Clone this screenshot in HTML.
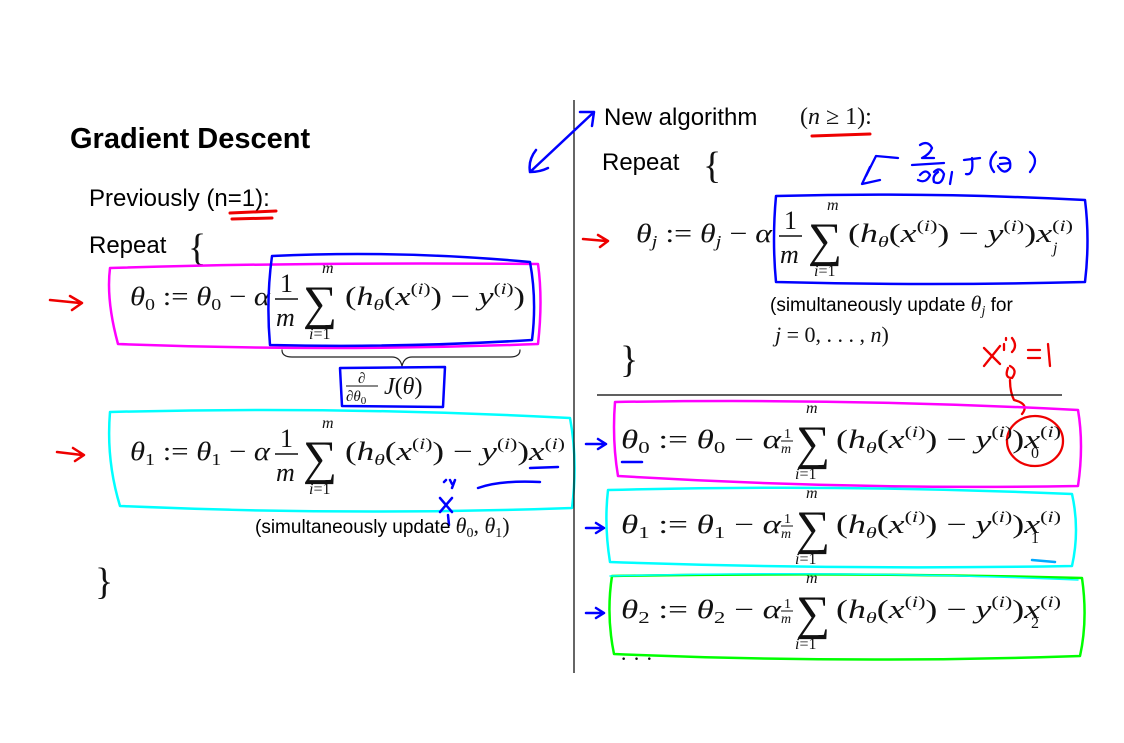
<!DOCTYPE html>
<html><head><meta charset="utf-8"><style>
html,body{margin:0;padding:0;background:#fff;}
svg{display:block;}
.m{font-family:"Liberation Serif","DejaVu Serif",serif;fill:#111;}
.s{font-family:"Liberation Sans",sans-serif;fill:#000;}
.hw{fill:none;stroke-linecap:round;stroke-linejoin:round;}
</style></head><body>
<svg width="1124" height="743" viewBox="0 0 1124 743" font-size="26">
<rect width="1124" height="743" fill="#fff"/>
<!-- left column -->
<text x="70" y="148" class="s" font-size="29" font-weight="bold">Gradient Descent</text>
<text x="89" y="206" class="s" font-size="24">Previously (n=1):</text>
<path d="M230 213 L276 211 M232 219 L272 218" class="hw" stroke="#e00" stroke-width="3"/>
<text x="89" y="253" class="s" font-size="24">Repeat</text>
<text x="188" y="260" class="m" font-size="38">{</text>

<!-- eq theta0 left -->
<g>
<text x="130" y="305" class="m" textLength="140" lengthAdjust="spacingAndGlyphs"><tspan font-style="italic">θ</tspan><tspan font-size="17" dy="5">0</tspan><tspan dy="-5"> := </tspan><tspan font-style="italic">θ</tspan><tspan font-size="17" dy="5">0</tspan><tspan dy="-5"> − </tspan><tspan font-style="italic">α</tspan></text>
<text x="280" y="292" class="m">1</text><line x1="275" y1="299" x2="298" y2="299" stroke="#111" stroke-width="1.5"/><text x="276" y="326" class="m" font-style="italic">m</text>
<text x="303" y="319" class="m" font-size="48">∑</text>
<text x="322" y="273" class="m" font-size="16" font-style="italic">m</text>
<text x="309" y="339" class="m" font-size="16"><tspan font-style="italic">i</tspan>=1</text>
<text x="345" y="305" class="m" textLength="180" lengthAdjust="spacingAndGlyphs">(<tspan font-style="italic">h</tspan><tspan font-size="16" dy="5" font-style="italic">θ</tspan><tspan dy="-5">(</tspan><tspan font-style="italic">x</tspan><tspan font-size="16" dy="-11">(<tspan font-style="italic">i</tspan>)</tspan><tspan dy="11">) − </tspan><tspan font-style="italic">y</tspan><tspan font-size="16" dy="-11">(<tspan font-style="italic">i</tspan>)</tspan><tspan dy="11">)</tspan></text>
</g>
<path d="M110 268 Q300 262 538 264 Q543 300 538 344 Q330 352 118 344 Q106 300 110 268Z" class="hw" stroke="#f0f" stroke-width="2.5"/>
<path d="M272 256 Q400 250 530 262 Q537 300 532 340 Q400 348 270 345 Q266 300 272 256Z" class="hw" stroke="#00f" stroke-width="2.5"/>
<path d="M282 350 Q282 357 292 357 L392 357 Q400 357 402 366 Q404 357 412 357 L510 357 Q520 357 520 350" class="hw" stroke="#222" stroke-width="1.2"/>
<g>
<text x="358" y="383" class="m" font-size="15" font-style="italic">∂</text><line x1="346" y1="386" x2="378" y2="386" stroke="#111" stroke-width="1"/>
<text x="346" y="401" class="m" font-size="15"><tspan font-style="italic">∂θ</tspan><tspan font-size="11" dy="3">0</tspan></text>
<text x="384" y="394" class="m" font-size="24"><tspan font-style="italic">J</tspan>(<tspan font-style="italic">θ</tspan>)</text>
</g>
<path d="M340 368 L445 367 L443 407 L342 406Z" class="hw" stroke="#00f" stroke-width="2.5"/>
<path d="M50 300 L80 303 M70 296 L82 303 L72 310" class="hw" stroke="#e00" stroke-width="2.5"/>

<!-- eq theta1 left -->
<g>
<text x="130" y="460" class="m" textLength="140" lengthAdjust="spacingAndGlyphs"><tspan font-style="italic">θ</tspan><tspan font-size="17" dy="5">1</tspan><tspan dy="-5"> := </tspan><tspan font-style="italic">θ</tspan><tspan font-size="17" dy="5">1</tspan><tspan dy="-5"> − </tspan><tspan font-style="italic">α</tspan></text>
<text x="280" y="447" class="m">1</text><line x1="275" y1="454" x2="298" y2="454" stroke="#111" stroke-width="1.5"/><text x="276" y="481" class="m" font-style="italic">m</text>
<text x="303" y="474" class="m" font-size="48">∑</text>
<text x="322" y="428" class="m" font-size="16" font-style="italic">m</text>
<text x="309" y="494" class="m" font-size="16"><tspan font-style="italic">i</tspan>=1</text>
<text x="345" y="460" class="m" textLength="220" lengthAdjust="spacingAndGlyphs">(<tspan font-style="italic">h</tspan><tspan font-size="16" dy="5" font-style="italic">θ</tspan><tspan dy="-5">(</tspan><tspan font-style="italic">x</tspan><tspan font-size="16" dy="-11">(<tspan font-style="italic">i</tspan>)</tspan><tspan dy="11">) − </tspan><tspan font-style="italic">y</tspan><tspan font-size="16" dy="-11">(<tspan font-style="italic">i</tspan>)</tspan><tspan dy="11">)</tspan><tspan font-style="italic">x</tspan><tspan font-size="16" dy="-11">(<tspan font-style="italic">i</tspan>)</tspan></text>
</g>
<path d="M110 412 Q340 406 570 418 Q578 460 572 508 Q350 516 120 506 Q106 460 110 412Z" class="hw" stroke="#0ff" stroke-width="2.5"/>
<path d="M530 468 L558 467 M478 488 Q500 480 540 482 M440 498 L452 512 M452 498 L440 512 M444 482 L446 480 M450 480 L452 484 M455 480 L452 488 M448 515 L449 525" class="hw" stroke="#00f" stroke-width="2.5"/>
<path d="M57 452 L82 455 M73 448 L84 455 L75 461" class="hw" stroke="#e00" stroke-width="2.5"/>
<text x="255" y="533" class="s" font-size="19">(simultaneously update <tspan class="m" font-size="22" font-style="italic">θ</tspan><tspan class="m" font-size="14" dy="4">0</tspan><tspan class="m" font-size="22" dy="-4">, </tspan><tspan class="m" font-size="22" font-style="italic">θ</tspan><tspan class="m" font-size="14" dy="4">1</tspan><tspan class="m" font-size="22" dy="-4">)</tspan></text>
<text x="95" y="594" class="m" font-size="38">}</text>

<line x1="574" y1="100" x2="574" y2="673" stroke="#000" stroke-width="1.2"/>

<!-- right column -->
<text x="604" y="125" class="s" font-size="24">New algorithm</text>
<text x="800" y="124" class="m" font-size="24">(<tspan font-style="italic">n</tspan> ≥ 1):</text>
<path d="M812 136 L870 134" class="hw" stroke="#e00" stroke-width="3"/>
<path d="M530 172 L594 112 M580 112 L594 112 L592 126 M530 172 Q528 160 536 150 M530 172 Q540 172 548 168" class="hw" stroke="#00f" stroke-width="2.5"/>
<text x="602" y="170" class="s" font-size="24">Repeat</text>
<text x="703" y="178" class="m" font-size="38">{</text>
<g class="hw" stroke="#00f" stroke-width="2.3">
<path d="M870 167 L862 184 L880 180 M866 176 L876 156 L898 158"/>
<path d="M920 145 Q928 140 932 148 Q930 154 922 158 L934 158 M912 165 L944 163 M920 175 Q926 168 930 175 Q926 184 918 180 M934 172 Q940 166 944 174 Q942 186 934 182 Q932 176 938 172 M950 184 L952 172"/>
<path d="M964 160 L980 158 M972 158 Q974 176 966 174 M996 152 Q986 162 994 172 M1000 158 Q1012 156 1010 168 Q1004 176 998 166 M1000 164 L1010 163 M1030 152 Q1040 160 1030 172"/>
</g>
<g>
<text x="636" y="242" class="m" textLength="136" lengthAdjust="spacingAndGlyphs"><tspan font-style="italic">θ</tspan><tspan font-size="17" dy="5" font-style="italic">j</tspan><tspan dy="-5"> := </tspan><tspan font-style="italic">θ</tspan><tspan font-size="17" dy="5" font-style="italic">j</tspan><tspan dy="-5"> − </tspan><tspan font-style="italic">α</tspan></text>
<text x="784" y="229" class="m">1</text><line x1="779" y1="236" x2="802" y2="236" stroke="#111" stroke-width="1.5"/><text x="780" y="263" class="m" font-style="italic">m</text>
<text x="808" y="256" class="m" font-size="48">∑</text>
<text x="827" y="210" class="m" font-size="16" font-style="italic">m</text>
<text x="814" y="276" class="m" font-size="16"><tspan font-style="italic">i</tspan>=1</text>
<text x="848" y="242" class="m" textLength="225" lengthAdjust="spacingAndGlyphs">(<tspan font-style="italic">h</tspan><tspan font-size="16" dy="5" font-style="italic">θ</tspan><tspan dy="-5">(</tspan><tspan font-style="italic">x</tspan><tspan font-size="16" dy="-11">(<tspan font-style="italic">i</tspan>)</tspan><tspan dy="11">) − </tspan><tspan font-style="italic">y</tspan><tspan font-size="16" dy="-11">(<tspan font-style="italic">i</tspan>)</tspan><tspan dy="11">)</tspan><tspan font-style="italic">x</tspan><tspan font-size="16" dy="-11">(<tspan font-style="italic">i</tspan>)</tspan></text>
<text x="1053" y="253" class="m" font-size="16" font-style="italic">j</text>
</g>
<path d="M776 196 Q930 192 1085 200 Q1090 240 1085 282 Q930 286 776 282 Q772 240 776 196Z" class="hw" stroke="#00f" stroke-width="2.5"/>
<path d="M583 239 L606 241 M598 235 L608 241 L600 247" class="hw" stroke="#e00" stroke-width="2.5"/>
<text x="770" y="311" class="s" font-size="19">(simultaneously update <tspan class="m" font-size="22" font-style="italic">θ</tspan><tspan class="m" font-size="14" font-style="italic" dy="4">j</tspan><tspan dy="-4">  for</tspan></text>
<text x="775" y="342" class="m" font-size="22"><tspan font-style="italic">j</tspan> = 0, . . . , <tspan font-style="italic">n</tspan>)</text>
<text x="620" y="372" class="m" font-size="38">}</text>
<g class="hw" stroke="#e00" stroke-width="2.3">
<path d="M984 348 L1000 364 M1000 346 L984 366 M1006 340 L1006 338 M1012 338 Q1018 346 1012 352 M1004 344 L1004 350 M1010 366 Q1018 370 1012 378 Q1004 378 1008 368 M1028 350 L1040 350 M1028 358 L1040 358 M1048 344 L1050 366"/>
<path d="M1010 380 Q1010 392 1014 400 Q1030 404 1022 414"/>
<ellipse cx="1035" cy="441" rx="28" ry="25"/>
</g>
<line x1="597" y1="395" x2="1062" y2="395" stroke="#000" stroke-width="1.2"/>

<!-- three right equations -->
<g>
<text x="621" y="448" class="m" textLength="160" lengthAdjust="spacingAndGlyphs"><tspan font-style="italic">θ</tspan><tspan font-size="17" dy="5">0</tspan><tspan dy="-5"> := </tspan><tspan font-style="italic">θ</tspan><tspan font-size="17" dy="5">0</tspan><tspan dy="-5"> − </tspan><tspan font-style="italic">α</tspan></text>
<text x="784" y="438" class="m" font-size="14">1</text><line x1="781" y1="441" x2="793" y2="441" stroke="#111"/><text x="781" y="453" class="m" font-size="14" font-style="italic">m</text>
<text x="796" y="459" class="m" font-size="48">∑</text>
<text x="806" y="413" class="m" font-size="16" font-style="italic">m</text>
<text x="795" y="479" class="m" font-size="16"><tspan font-style="italic">i</tspan>=1</text>
<text x="836" y="448" class="m" textLength="225" lengthAdjust="spacingAndGlyphs">(<tspan font-style="italic">h</tspan><tspan font-size="16" dy="5" font-style="italic">θ</tspan><tspan dy="-5">(</tspan><tspan font-style="italic">x</tspan><tspan font-size="16" dy="-11">(<tspan font-style="italic">i</tspan>)</tspan><tspan dy="11">) − </tspan><tspan font-style="italic">y</tspan><tspan font-size="16" dy="-11">(<tspan font-style="italic">i</tspan>)</tspan><tspan dy="11">)</tspan><tspan font-style="italic">x</tspan><tspan font-size="16" dy="-11">(<tspan font-style="italic">i</tspan>)</tspan></text>
<text x="1031" y="458" class="m" font-size="16">0</text>
</g>
<path d="M615 402 Q850 398 1078 410 Q1084 445 1078 486 Q850 490 618 476 Q612 440 615 402Z" class="hw" stroke="#f0f" stroke-width="2.5"/>
<path d="M622 462 L642 462" class="hw" stroke="#00f" stroke-width="2.5"/>
<path d="M586 444 L606 444 M598 439 L606 444 L598 449" class="hw" stroke="#00f" stroke-width="2.5"/>

<g>
<text x="621" y="533" class="m" textLength="160" lengthAdjust="spacingAndGlyphs"><tspan font-style="italic">θ</tspan><tspan font-size="17" dy="5">1</tspan><tspan dy="-5"> := </tspan><tspan font-style="italic">θ</tspan><tspan font-size="17" dy="5">1</tspan><tspan dy="-5"> − </tspan><tspan font-style="italic">α</tspan></text>
<text x="784" y="523" class="m" font-size="14">1</text><line x1="781" y1="526" x2="793" y2="526" stroke="#111"/><text x="781" y="538" class="m" font-size="14" font-style="italic">m</text>
<text x="796" y="544" class="m" font-size="48">∑</text>
<text x="806" y="498" class="m" font-size="16" font-style="italic">m</text>
<text x="795" y="564" class="m" font-size="16"><tspan font-style="italic">i</tspan>=1</text>
<text x="836" y="533" class="m" textLength="225" lengthAdjust="spacingAndGlyphs">(<tspan font-style="italic">h</tspan><tspan font-size="16" dy="5" font-style="italic">θ</tspan><tspan dy="-5">(</tspan><tspan font-style="italic">x</tspan><tspan font-size="16" dy="-11">(<tspan font-style="italic">i</tspan>)</tspan><tspan dy="11">) − </tspan><tspan font-style="italic">y</tspan><tspan font-size="16" dy="-11">(<tspan font-style="italic">i</tspan>)</tspan><tspan dy="11">)</tspan><tspan font-style="italic">x</tspan><tspan font-size="16" dy="-11">(<tspan font-style="italic">i</tspan>)</tspan></text>
<text x="1031" y="543" class="m" font-size="16">1</text>
</g>
<path d="M608 490 Q840 484 1072 494 Q1080 530 1072 566 Q840 570 610 562 Q604 525 608 490Z" class="hw" stroke="#0ff" stroke-width="2.5"/>
<path d="M1032 560 L1055 562" class="hw" stroke="#0af" stroke-width="2.5"/>
<path d="M586 528 L604 528 M596 523 L604 528 L596 533" class="hw" stroke="#00f" stroke-width="2.5"/>

<g>
<text x="621" y="618" class="m" textLength="160" lengthAdjust="spacingAndGlyphs"><tspan font-style="italic">θ</tspan><tspan font-size="17" dy="5">2</tspan><tspan dy="-5"> := </tspan><tspan font-style="italic">θ</tspan><tspan font-size="17" dy="5">2</tspan><tspan dy="-5"> − </tspan><tspan font-style="italic">α</tspan></text>
<text x="784" y="608" class="m" font-size="14">1</text><line x1="781" y1="611" x2="793" y2="611" stroke="#111"/><text x="781" y="623" class="m" font-size="14" font-style="italic">m</text>
<text x="796" y="629" class="m" font-size="48">∑</text>
<text x="806" y="583" class="m" font-size="16" font-style="italic">m</text>
<text x="795" y="649" class="m" font-size="16"><tspan font-style="italic">i</tspan>=1</text>
<text x="836" y="618" class="m" textLength="225" lengthAdjust="spacingAndGlyphs">(<tspan font-style="italic">h</tspan><tspan font-size="16" dy="5" font-style="italic">θ</tspan><tspan dy="-5">(</tspan><tspan font-style="italic">x</tspan><tspan font-size="16" dy="-11">(<tspan font-style="italic">i</tspan>)</tspan><tspan dy="11">) − </tspan><tspan font-style="italic">y</tspan><tspan font-size="16" dy="-11">(<tspan font-style="italic">i</tspan>)</tspan><tspan dy="11">)</tspan><tspan font-style="italic">x</tspan><tspan font-size="16" dy="-11">(<tspan font-style="italic">i</tspan>)</tspan></text>
<text x="1031" y="628" class="m" font-size="16">2</text>
</g>
<path d="M612 576 Q850 572 1082 578 Q1088 620 1080 656 Q850 664 614 654 Q606 615 612 576Z" class="hw" stroke="#0f0" stroke-width="2.5"/>
<path d="M610 576 Q850 570 1078 580" class="hw" stroke="#0ff" stroke-width="1.5"/>
<path d="M586 613 L604 613 M596 608 L604 613 L596 618" class="hw" stroke="#00f" stroke-width="2.5"/>
<text x="620" y="666" class="m" font-size="22">· · ·</text>
</svg>
</body></html>
